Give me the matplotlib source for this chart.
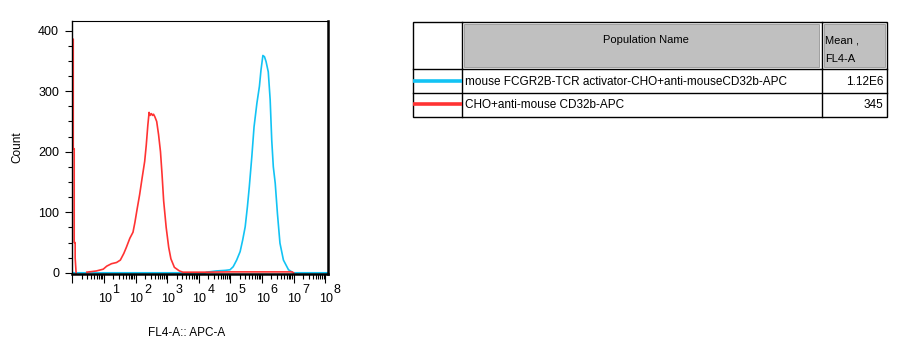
import matplotlib.pyplot as plt
import numpy as np
from matplotlib.ticker import MultipleLocator, LogLocator, NullFormatter
from matplotlib.patches import Rectangle

plt.rcParams['font.family'] = ['Liberation Sans', 'DejaVu Sans']

# populations shown in the legend table
pop_names = ['mouse FCGR2B-TCR activator-CHO+anti-mouseCD32b-APC',
             'CHO+anti-mouse CD32b-APC']
pop_means = ['1.12E6', '345']
pop_colors = ['#12c3f4', '#ff3333']

# histogram traces, x in decades (log10 FL4-A), y in counts
cyan_decade = np.array([0.0, 4.20, 4.25, 4.55, 4.84, 4.99, 5.09, 5.20, 5.31, 5.39,
                        5.47, 5.54, 5.60, 5.68, 5.75, 5.84, 5.92, 5.97, 6.03, 6.08,
                        6.13, 6.20, 6.26, 6.31, 6.36, 6.42, 6.49, 6.57, 6.68, 6.84,
                        6.99, 8.09])
cyan_count = np.array([0, 0, 1, 3, 4, 5, 10, 21, 35, 54,
                       76, 109, 142, 192, 241, 280, 308, 335, 359, 357,
                       349, 332, 286, 219, 175, 148, 98, 49, 21, 5,
                       0, 0])

red_decade = np.array([0.00, 0.03, 0.03, 0.06, 0.06, 0.09, 0.09, 0.12, np.nan,
                       0.46, 0.76, 0.98, 1.09, 1.24, 1.40, 1.52, 1.63, 1.71,
                       1.82, 1.92, 1.98, 2.05, 2.13, 2.21, 2.29, 2.34, 2.39,
                       2.43, 2.46, 2.50, 2.54, 2.57, 2.61, 2.67, 2.73, 2.79,
                       2.84, 2.89, 2.97, 3.05, 3.12, 3.23, 3.39, 3.50, 3.75,
                       4.20, 5.00, 6.00, 6.95, 7.00])
red_count = np.array([386, 386, 205, 205, 50, 50, 25, 0, np.nan,
                      1, 3, 6, 11, 15, 17, 21, 32, 42,
                      57, 67, 83, 105, 129, 157, 184, 211, 244,
                      265, 260, 263, 260, 262, 258, 250, 228, 200,
                      162, 119, 75, 42, 23, 9, 3, 1, 1,
                      1, 1.5, 1.5, 1.5, 0])

decades = [1, 2, 3, 4, 5, 6, 7, 8]

fig = plt.figure(figsize=(8.97, 3.54), dpi=100)

# ---------------------------------------------------------------- table
tab = fig.add_axes([0, 0, 1, 1])
tab.set_xlim(0, 897)
tab.set_ylim(354, 0)
tab.axis('off')

L, C1, C2, R = 413.3, 461.5, 821.5, 887.0
T, H, R1, B = 22.3, 69.0, 93.3, 117.0

tab.add_patch(Rectangle((C1 + 2.5, T + 2), C2 - C1 - 5, H - T - 4.5,
                        facecolor='#c0c0c0', edgecolor='#a0a0a0', lw=0.7))
tab.add_patch(Rectangle((C2 + 2.5, T + 2), R - C2 - 5, H - T - 4.5,
                        facecolor='#c0c0c0', edgecolor='#a0a0a0', lw=0.7))
tab.add_patch(Rectangle((L, T), R - L, B - T, facecolor='none',
                        edgecolor='black', lw=1.0))
for yy in (H, R1):
    tab.plot([L, R], [yy, yy], color='black', lw=1.0)
for xx in (C1, C2):
    tab.plot([xx, xx], [T, B], color='black', lw=1.0)

tab.text((C1 + C2) / 2 + 4, 43.3, 'Population Name', ha='center', va='baseline', fontsize=8)
tab.text(C2 + 3.5, 43.3, 'Mean ,', ha='left', va='baseline', fontsize=8)
tab.text(C2 + 3.5, 61.7, 'FL4-A', ha='left', va='baseline', fontsize=8)

row_mid = [81.0, 104.3]
for name, mean, col, ym in zip(pop_names, pop_means, pop_colors, row_mid):
    tab.plot([L, C1], [ym, ym], color=col, lw=2.6, solid_capstyle='butt')
    tab.text(C1 + 3.5, ym + 4, name, ha='left', va='baseline', fontsize=8.5)
    tab.text(R - 3.5, ym + 4, mean, ha='right', va='baseline', fontsize=8.5)

# ---------------------------------------------------------------- histogram
ax = fig.add_axes([72.3 / 897, 80 / 354, 255.7 / 897, 253 / 354])
ax.plot(10 ** cyan_decade, cyan_count, color=pop_colors[0], lw=1.2)
ax.plot(10 ** red_decade, red_count, color=pop_colors[1], lw=1.2)

ax.set_xscale('log')
ax.set_xlim(1, 10 ** 8.09)
ax.set_ylim(-2, 416)

ax.yaxis.set_major_locator(MultipleLocator(100))
ax.yaxis.set_minor_locator(MultipleLocator(25))
ax.xaxis.set_major_locator(LogLocator(base=10, numticks=20))
ax.xaxis.set_minor_locator(LogLocator(base=10, subs=np.arange(2, 10), numticks=20))
ax.xaxis.set_major_formatter(NullFormatter())
ax.xaxis.set_minor_formatter(NullFormatter())

ax.tick_params(axis='x', which='major', length=6.5, width=0.8)
ax.tick_params(axis='x', which='minor', length=3.6, width=0.8)
ax.tick_params(axis='y', which='major', length=5, width=0.8, labelsize=9, pad=4.5)
ax.tick_params(axis='y', which='minor', length=3, width=0.8)

ax.spines['left'].set_linewidth(1.0)
ax.spines['top'].set_linewidth(0.8)
ax.spines['right'].set_linewidth(1.8)
ax.spines['bottom'].set_linewidth(1.8)

for n in decades:
    ax.annotate('10', xy=(10 ** n, 0), xycoords=('data', 'axes fraction'),
                xytext=(0.7, -28), textcoords='offset pixels',
                ha='center', va='baseline', fontsize=9)
    ax.annotate(str(n), xy=(10 ** n, 0), xycoords=('data', 'axes fraction'),
                xytext=(8.6, -19.3), textcoords='offset pixels',
                ha='left', va='baseline', fontsize=9)

ax.set_xlabel('FL4-A:: APC-A', fontsize=8.5)
ax.xaxis.set_label_coords(0.446, -0.209)
ax.set_ylabel('Count', fontsize=8.5)
ax.yaxis.set_label_coords(-0.193, 0.5)

fig.savefig('out.png', dpi=100)
